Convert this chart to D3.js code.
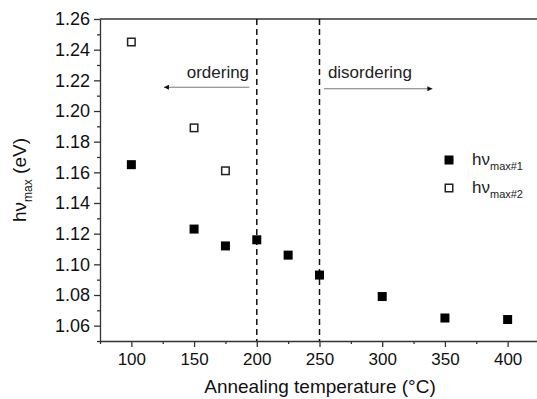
<!DOCTYPE html>
<html><head><meta charset="utf-8">
<script src="https://cdn.jsdelivr.net/npm/d3@7"></script>
<style>body{margin:0;background:#fff}svg{display:block;font-family:"Liberation Sans",Arial,sans-serif}</style>
</head><body><svg id="c" width="537" height="399"></svg>
<script>
const temps1 = [100,150,175,200,225,250,300,350,400];
const hv1 = [1.165,1.123,1.112,1.116,1.106,1.093,1.079,1.065,1.064];
const temps2 = [100,150,175];
const hv2 = [1.245,1.189,1.161];
const xMajor = [100,150,200,250,300,350,400];
const xMinor = [75,125,175,225,275,325,375,425];
const yMajor = [1.06,1.08,1.10,1.12,1.14,1.16,1.18,1.20,1.22,1.24,1.26];
const yMinor = [1.05,1.07,1.09,1.11,1.13,1.15,1.17,1.19,1.21,1.23,1.25];
const boundaries = [200,250];

const svg = d3.select('#c');
const L=100, R=539, T=19, B=341;
const x = d3.scaleLinear().domain([75,425]).range([L,R]);
const y = d3.scaleLinear().domain([1.05,1.26]).range([B,T]);
const axisColor = '#333';

svg.append('line').attr('x1',L).attr('x2',R).attr('y1',T).attr('y2',T).attr('stroke',axisColor).attr('stroke-width',1.3);

const gx = svg.append('g').attr('transform',`translate(0,${B})`);
gx.call(d3.axisBottom(x).tickValues(xMajor).tickSize(6).tickSizeOuter(0).tickFormat(d3.format('d')));
gx.append('g').call(d3.axisBottom(x).tickValues(xMinor).tickSize(3).tickSizeOuter(0).tickFormat(''));
gx.selectAll('path,line').attr('stroke',axisColor).attr('stroke-width',1.3);
gx.selectAll('text').attr('font-size',17).attr('fill','#111').attr('dy','0.9em');
gx.selectAll('g g path').remove();

const gy = svg.append('g').attr('transform',`translate(${L},0)`);
gy.call(d3.axisLeft(y).tickValues(yMajor).tickSize(6).tickSizeOuter(0).tickFormat(d3.format('.2f')));
gy.append('g').call(d3.axisLeft(y).tickValues(yMinor).tickSize(3).tickSizeOuter(0).tickFormat(''));
gy.selectAll('path,line').attr('stroke',axisColor).attr('stroke-width',1.3);
gy.selectAll('text').attr('font-size',18).attr('fill','#111').attr('x',-10);
gy.selectAll('g g path').remove();

svg.selectAll('.vb').data(boundaries).join('line')
  .attr('x1',d=>x(d)).attr('x2',d=>x(d)).attr('y1',T).attr('y2',B)
  .attr('stroke','#111').attr('stroke-width',1.5).attr('stroke-dasharray','6,4');

const defs = svg.append('defs');
defs.append('marker').attr('id','ah').attr('viewBox','0 0 10 10').attr('refX',10).attr('refY',5)
  .attr('markerWidth',8).attr('markerHeight',5).attr('markerUnits','userSpaceOnUse').attr('orient','auto')
  .append('path').attr('d','M0,0L10,5L0,10z').attr('fill','#111');
const arrows = [{x1:194,x2:126,v:1.2155},{x1:253.5,x2:340,v:1.2145}];
svg.selectAll('.ar').data(arrows).join('line')
  .attr('x1',d=>x(d.x1)).attr('x2',d=>x(d.x2)).attr('y1',d=>y(d.v)).attr('y2',d=>y(d.v))
  .attr('stroke','#777').attr('stroke-width',1).attr('marker-end','url(#ah)');
svg.append('text').attr('x',x(169)).attr('y',y(1.2217)).attr('text-anchor','middle').attr('font-size',17).attr('fill','#222').text('ordering');
svg.append('text').attr('x',x(253.5)+4).attr('y',y(1.2212)).attr('font-size',17).attr('fill','#222').text('disordering');

const s=9;
svg.selectAll('.p1').data(temps1.map((t,i)=>[t,hv1[i]])).join('rect')
  .attr('x',d=>x(d[0])-s/2).attr('y',d=>y(d[1])-s/2).attr('width',s).attr('height',s).attr('fill','#000');
svg.selectAll('.p2').data(temps2.map((t,i)=>[t,hv2[i]])).join('rect')
  .attr('x',d=>x(d[0])-s/2+0.75).attr('y',d=>y(d[1])-s/2+0.75).attr('width',s-1.5).attr('height',s-1.5)
  .attr('fill','#fff').attr('stroke','#222').attr('stroke-width',1.5);

svg.append('rect').attr('x',449-4.5).attr('y',160-4.5).attr('width',9).attr('height',9).attr('fill','#000');
svg.append('rect').attr('x',449-3.75).attr('y',188-3.75).attr('width',7.5).attr('height',7.5).attr('fill','#fff').attr('stroke','#222').attr('stroke-width',1.5);
[['max#1',165],['max#2',193]].forEach(([sub,by])=>{
  const t = svg.append('text').attr('x',472).attr('y',by).attr('font-size',17).attr('fill','#222');
  t.append('tspan').text('hν');
  t.append('tspan').attr('font-size',11).attr('dy',5).text(sub);
});

svg.append('text').attr('x',320).attr('y',393).attr('text-anchor','middle').attr('font-size',19).attr('fill','#111').text('Annealing temperature (°C)');
const yt = svg.append('text').attr('transform',`translate(26,${(T+B)/2}) rotate(-90)`).attr('text-anchor','middle').attr('font-size',19).attr('fill','#111');
yt.append('tspan').text('hν');
yt.append('tspan').attr('font-size',12).attr('dy',6).text('max');
yt.append('tspan').attr('dy',-6).text(' (eV)');
</script></body></html>
